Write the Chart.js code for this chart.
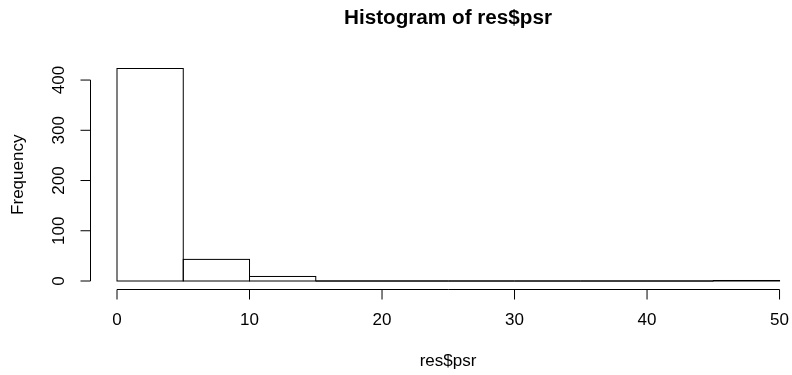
<!DOCTYPE html>
<html>
<head>
<meta charset="utf-8">
<script src="https://cdn.jsdelivr.net/npm/chart.js@4/dist/chart.umd.min.js"></script>
<style>
  html, body { margin: 0; padding: 0; background: #ffffff; }
  #wrap { width: 792px; height: 375px; position: relative; }
</style>
</head>
<body>
<div id="wrap"><canvas id="c" width="792" height="375"></canvas></div>
<script>
// ---- data ----
const binEdges = [0, 5, 10, 15, 20, 25, 30, 35, 40, 45, 50];
const counts = [423, 43, 9, 0, 0, 0, 0, 0, 0, 1];
const xTicks = [0, 10, 20, 30, 40, 50];
const yTicks = [0, 100, 200, 300, 400];
const chartTitle = "Histogram of res$psr";
const xLabel = "res$psr";
const yLabel = "Frequency";

const barData = counts.map((c, i) => ({ x: (binEdges[i] + binEdges[i + 1]) / 2, y: c }));

const FONT = '"Liberation Sans", Arial, Helvetica, sans-serif';

const rStyle = {
  id: 'rStyle',
  afterDatasetsDraw(chart) {
    const ctx = chart.ctx;
    const xs = chart.scales.x, ys = chart.scales.y;
    const area = chart.chartArea;
    ctx.save();
    ctx.strokeStyle = '#000';
    ctx.lineWidth = 1;
    // histogram rectangles, geometry from Chart.js bar elements
    const meta = chart.getDatasetMeta(0);
    meta.data.forEach(el => {
      const p = el.getProps(['x', 'y', 'base', 'width'], true);
      ctx.strokeRect(p.x - p.width / 2, p.y, p.width, p.base - p.y);
    });
    // y axis
    const ax = area.left;
    ctx.beginPath();
    ctx.moveTo(ax, ys.getPixelForValue(yTicks[0]));
    ctx.lineTo(ax, ys.getPixelForValue(yTicks[yTicks.length - 1]));
    yTicks.forEach(t => {
      const py = ys.getPixelForValue(t);
      ctx.moveTo(ax, py);
      ctx.lineTo(ax - 10, py);
    });
    // x axis
    const ay = area.bottom;
    ctx.moveTo(xs.getPixelForValue(xTicks[0]), ay);
    ctx.lineTo(xs.getPixelForValue(xTicks[xTicks.length - 1]), ay);
    xTicks.forEach(t => {
      const px = xs.getPixelForValue(t);
      ctx.moveTo(px, ay);
      ctx.lineTo(px, ay + 10);
    });
    ctx.stroke();

    ctx.fillStyle = '#000';
    ctx.textAlign = 'center';
    ctx.textBaseline = 'middle';
    ctx.font = '17px ' + FONT;
    xTicks.forEach(t => {
      ctx.fillText(String(t), xs.getPixelForValue(t), 320);
    });
    yTicks.forEach(t => {
      ctx.save();
      ctx.translate(59, ys.getPixelForValue(t));
      ctx.rotate(-Math.PI / 2);
      ctx.fillText(String(t), 0, 0);
      ctx.restore();
    });
    // axis titles
    ctx.fillText(xLabel, 448, 361);
    ctx.save();
    ctx.translate(18.5, (area.top + area.bottom) / 2);
    ctx.rotate(-Math.PI / 2);
    ctx.fillText(yLabel, 0, 0);
    ctx.restore();
    // main title
    ctx.font = 'bold 20.7px ' + FONT;
    ctx.fillText(chartTitle, 448, 18);
    ctx.restore();
  }
};

new Chart(document.getElementById('c'), {
  type: 'bar',
  data: {
    datasets: [{
      data: barData,
      backgroundColor: 'rgba(0,0,0,0)',
      borderWidth: 0,
      barPercentage: 1,
      categoryPercentage: 1,
      grouped: false
    }]
  },
  options: {
    responsive: false,
    animation: false,
    events: [],
    layout: { padding: { left: 90.5, right: 0, top: 60, bottom: 85.5 } },
    plugins: { legend: { display: false }, tooltip: { enabled: false }, title: { display: false } },
    scales: {
      x: {
        type: 'linear', display: false, offset: false, min: -2, max: 50.94,
        afterBuildTicks: (scale) => { scale.ticks = binEdges.map(v => ({ value: v })); }
      },
      y: {
        type: 'linear', display: false, min: -16.92, max: 439.92,
        afterBuildTicks: (scale) => { scale.ticks = yTicks.map(v => ({ value: v })); }
      }
    }
  },
  plugins: [rStyle]
});
</script>
</body>
</html>
